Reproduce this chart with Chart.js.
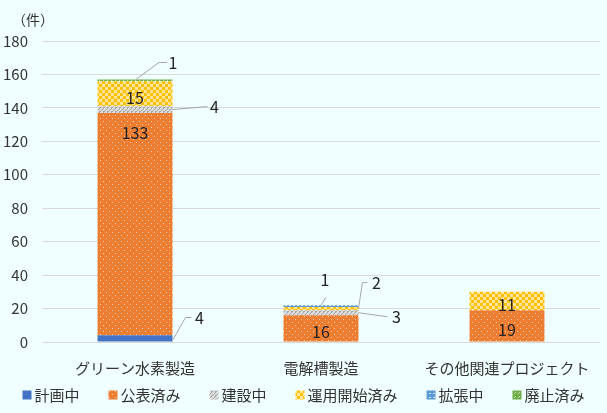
<!DOCTYPE html>
<html>
<head>
<meta charset="utf-8">
<script src="https://cdn.jsdelivr.net/npm/chart.js@4"></script>
<style>
  html, body { margin: 0; padding: 0; background: #f0ffff; }
  #wrap { width: 607px; height: 413px; }
</style>
</head>
<body>
<div id="wrap"><canvas id="chart"></canvas></div>
<script>
// data
const categories = ["グリーン水素製造", "電解槽製造", "その他関連プロジェクト"];
const planned = [4, 0, 0];      // 計画中
const announced = [133, 16, 19]; // 公表済み
const building = [4, 3, 0];     // 建設中
const operating = [15, 2, 11];  // 運用開始済み
const expanding = [0, 1, 0];    // 拡張中
const retired = [1, 0, 0];      // 廃止済み
const yTicks = [0, 20, 40, 60, 80, 100, 120, 140, 160, 180];

const FONT = "'Noto Sans CJK JP', 'Noto Sans', sans-serif";

// small tile patterns like the excel fills
function makePattern(size, draw) {
  const c = document.createElement("canvas");
  c.width = size; c.height = size;
  const g = c.getContext("2d");
  draw(g);
  return g.createPattern(c, "repeat");
}

const dotOrange = makePattern(6, g => {
  g.fillStyle = "#ed7d31"; g.fillRect(0, 0, 6, 6);
  g.fillStyle = "#f9cfae";
  g.fillRect(1, 1, 1, 1); g.fillRect(4, 4, 1, 1);
});
const hatchGray = makePattern(4, g => {
  g.fillStyle = "#dcdcdc"; g.fillRect(0, 0, 4, 4);
  g.fillStyle = "#a5a5a5";
  for (let i = 0; i < 4; i++) g.fillRect(3 - i, i, 1, 1);
  g.fillRect(3, 3, 1, 1);
});
const checkYellow = makePattern(6, g => {
  g.fillStyle = "#ffc000"; g.fillRect(0, 0, 6, 6);
  g.fillStyle = "#ffe59a";
  g.fillRect(0, 0, 3, 3); g.fillRect(3, 3, 3, 3);
});
const stripeBlue = makePattern(4, g => {
  g.fillStyle = "#5b9bd5"; g.fillRect(0, 0, 4, 4);
  g.fillStyle = "#d6e6f5";
  g.fillRect(1, 1, 2, 1);
});
const diagGreen = makePattern(4, g => {
  g.fillStyle = "#70ad47"; g.fillRect(0, 0, 4, 4);
  g.fillStyle = "#c5e0b4";
  g.fillRect(3, 0, 1, 1); g.fillRect(2, 1, 1, 1);
});

// where each label goes; small segments get a leader line
// pts are pixel offsets from the segment anchor (right edge / middle)
const labelStyle = {
  "1-0": { mode: "top", dy: 20 },
  "0-0": { mode: "call", ax: "right", ay: "bottom", pts: [[0, -1], [13, -24], [19, -24]], text: [27, -24] },
  "2-0": { mode: "call", ax: "right", ay: "mid", pts: [[0, 0], [35, -3]], text: [42, -3] },
  "5-0": { mode: "call", ax: "mid", ay: "top", pts: [[1, 0], [24, -17], [32, -17]], text: [38, -17] },
  "4-1": { mode: "call", ax: "mid", ay: "top", pts: [[0, 0], [5, -8]], text: [4, -25] },
  "3-1": { mode: "call", ax: "right", ay: "mid", pts: [[0, 0], [4, -26], [9, -26]], text: [18, -26] },
  "2-1": { mode: "call", ax: "right", ay: "mid", pts: [[0, 0], [29, 4]], text: [38, 4] }
};

const labelPlugin = {
  id: "segLabels",
  afterDatasetsDraw(chart) {
    const ctx = chart.ctx;
    ctx.save();
    ctx.font = "16px " + FONT;
    ctx.textAlign = "center";
    ctx.textBaseline = "middle";
    chart.data.datasets.forEach((ds, di) => {
      const meta = chart.getDatasetMeta(di);
      meta.data.forEach((bar, i) => {
        const v = ds.data[i];
        if (!v) return;
        const st = labelStyle[di + "-" + i] || { mode: "mid", dy: 4 };
        const top = Math.min(bar.y, bar.base), bot = Math.max(bar.y, bar.base);
        const right = bar.x + bar.width / 2;
        ctx.fillStyle = "#222";
        if (st.mode === "mid") {
          ctx.fillText(String(v), bar.x, (top + bot) / 2 + st.dy);
        } else if (st.mode === "top") {
          ctx.fillText(String(v), bar.x, top + st.dy);
        } else {
          const ax = st.ax === "right" ? right : bar.x;
          const ay = st.ay === "bottom" ? bot : st.ay === "top" ? top : (top + bot) / 2;
          ctx.strokeStyle = "#a6a6a6";
          ctx.lineWidth = 1;
          ctx.beginPath();
          st.pts.forEach((p, k) => {
            if (k === 0) ctx.moveTo(ax + p[0], ay + p[1]);
            else ctx.lineTo(ax + p[0], ay + p[1]);
          });
          ctx.stroke();
          ctx.fillText(String(v), ax + st.text[0], ay + st.text[1]);
        }
      });
    });
    // unit label
    ctx.font = "14px " + FONT;
    ctx.textAlign = "left";
    ctx.fillStyle = "#333";
    ctx.fillText("（件）", 12, 20);
    ctx.restore();
  }
};

// legend drawn by hand so the spacing can be wider than the row height
const legendPlugin = {
  id: "wideLegend",
  afterDraw(chart) {
    const ctx = chart.ctx;
    const box = 9, gap = 3, space = 29, y = 395;
    ctx.save();
    ctx.font = "15px " + FONT;
    ctx.textBaseline = "middle";
    ctx.textAlign = "left";
    const items = chart.data.datasets.map(ds => ({
      text: ds.label, fill: ds.backgroundColor,
      w: box + gap + ctx.measureText(ds.label).width
    }));
    const total = items.reduce((s, it) => s + it.w, 0) + space * (items.length - 1);
    let x = (chart.width - total) / 2;
    items.forEach(it => {
      ctx.fillStyle = it.fill;
      ctx.fillRect(x, y - box / 2, box, box);
      ctx.fillStyle = "#333";
      ctx.fillText(it.text, x + box + gap, y);
      x += it.w + space;
    });
    ctx.restore();
  }
};

const bgPlugin = {
  id: "bg",
  beforeDraw(chart) {
    const ctx = chart.ctx;
    ctx.save();
    ctx.fillStyle = "#f0ffff";
    ctx.fillRect(0, 0, chart.width, chart.height);
    ctx.restore();
  }
};

function series(label, data, fill) {
  return { label, data, backgroundColor: fill, borderWidth: 0,
           barPercentage: 0.403, categoryPercentage: 1 };
}

new Chart(document.getElementById("chart"), {
  type: "bar",
  data: {
    labels: categories,
    datasets: [
      series("計画中", planned, "#4472c4"),
      series("公表済み", announced, dotOrange),
      series("建設中", building, hatchGray),
      series("運用開始済み", operating, checkYellow),
      series("拡張中", expanding, stripeBlue),
      series("廃止済み", retired, diagGreen)
    ]
  },
  options: {
    responsive: true,
    maintainAspectRatio: false,
    animation: false,
    layout: { padding: { top: 41, right: 7, left: 0, bottom: 35 } },
    scales: {
      x: {
        stacked: true,
        afterFit(axis) { axis.height = 36; },
        grid: { display: false },
        border: { display: false },
        ticks: { color: "#333", font: { family: FONT, size: 15 }, padding: 9, maxRotation: 0 }
      },
      y: {
        stacked: true,
        min: 0, max: 180,
        afterBuildTicks(axis) { axis.ticks = yTicks.map(v => ({ value: v })); },
        afterFit(axis) { axis.width = 42; },
        grid: { color: "#d9d9d9", drawTicks: false, lineWidth: 1 },
        border: { display: false },
        ticks: { color: "#333", font: { family: FONT, size: 15 }, padding: 14 }
      }
    },
    plugins: {
      legend: { display: false },
      tooltip: { enabled: false }
    }
  },
  plugins: [bgPlugin, labelPlugin, legendPlugin]
});
</script>
</body>
</html>
